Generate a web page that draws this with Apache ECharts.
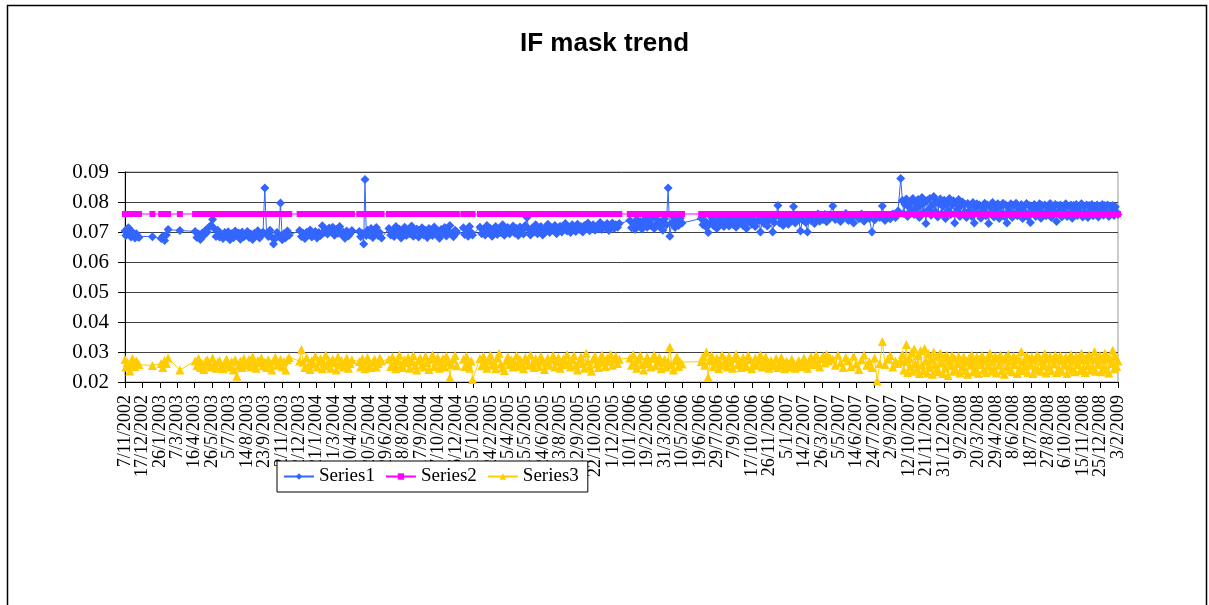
<!DOCTYPE html>
<html>
<head>
<meta charset="utf-8">
<title>IF mask trend</title>
<script src="https://cdn.jsdelivr.net/npm/echarts@6/dist/echarts.min.js"></script>
<style>
  html, body { margin: 0; padding: 0; background: #fff; }
  #chart { width: 1209px; height: 605px; }
</style>
</head>
<body>
<div id="chart"></div>
<script>
// x axis: one category per day from 7/11/2002 to 3/2/2009, labelled every 40 days
const axisStart = [2002, 10, 7];
const axisDays = 2281;
const labelEvery = 40;

// measurement dates, as day number counted from 7/11/2002
const days = [
  0, 2, 5, 8, 11, 14, 17, 20, 23, 26, 29, 32,
  63,
  83, 87, 91, 95, 99,
  126,
  161, 165, 169, 173, 177, 181, 185, 189, 193, 197,
  201, 205, 209, 213, 217, 221, 225, 229, 233, 237,
  241, 245, 249, 253, 257, 261, 265, 269, 273, 277,
  281, 285, 289, 293, 297, 301, 305, 309, 313, 317,
  321, 325, 329, 333, 337, 341, 345, 349, 353, 357,
  361, 365, 369, 373, 377,
  401, 405, 409, 413, 417, 421, 425, 429, 433, 437,
  441, 445, 449, 453, 457, 461, 465, 469, 473, 477,
  481, 485, 489, 493, 497, 501, 505, 509, 513, 517, 521,
  538, 541, 545, 548, 551, 554, 557, 561, 565, 569, 573, 577, 581, 585, 589,
  606, 610, 614, 618, 622, 626, 630, 634, 638, 642,
  646, 650, 654, 658, 662, 666, 670, 674, 678, 682,
  686, 690, 694, 698, 702, 706, 710, 714, 718, 722,
  726, 730, 734, 738, 742, 746, 750, 754, 758, 762,
  777, 780, 784, 788, 791, 795, 798,
  815, 819, 823, 827, 831, 835, 839, 843, 847, 851,
  855, 859, 863, 867, 871, 875, 879, 883, 887, 891,
  895, 899, 903, 907, 911, 915, 919, 923, 927, 931,
  935, 939, 943, 947, 951, 955, 959, 963, 967, 971,
  975, 979, 983, 987, 991, 995, 999, 1003, 1007, 1011,
  1015, 1019, 1023, 1027, 1031, 1035, 1039, 1043, 1047, 1051,
  1055, 1059, 1063, 1067, 1071, 1075, 1079, 1083, 1087, 1091,
  1095, 1099, 1103, 1107, 1111, 1115, 1119, 1123, 1127, 1131,
  1135,
  1159, 1163, 1167, 1171, 1175, 1179, 1183, 1187, 1191, 1195,
  1199, 1203, 1207, 1211, 1215, 1219, 1223, 1227, 1231, 1235,
  1239, 1243, 1247, 1251, 1255, 1259, 1263, 1267, 1271, 1275, 1279,
  1323, 1327, 1331, 1335, 1339, 1343, 1347, 1351, 1355, 1359,
  1363, 1367, 1371, 1375, 1379, 1383, 1387, 1391, 1395, 1399,
  1403, 1407, 1411, 1415, 1419, 1423, 1427, 1431, 1435, 1439,
  1443, 1447, 1451, 1455, 1459, 1463, 1467, 1471, 1475, 1479,
  1483, 1487, 1491, 1495, 1499, 1503, 1507, 1511, 1515, 1519,
  1523, 1527, 1531, 1535, 1539, 1543, 1547, 1551, 1555, 1559,
  1563, 1567, 1571, 1575, 1579, 1583, 1587, 1591, 1595, 1599,
  1603, 1607, 1611, 1615, 1619,
  1625, 1631, 1637, 1643, 1649, 1655, 1661, 1667, 1673, 1679,
  1685, 1691, 1697, 1703, 1709, 1715, 1721, 1727, 1733, 1739,
  1745, 1751, 1757, 1763, 1769, 1775,
  1781,
  1785, 1788, 1791, 1794, 1797, 1800, 1803, 1806, 1809, 1812,
  1815, 1818, 1821, 1824, 1827, 1830, 1833, 1836, 1839, 1842,
  1845, 1848, 1851, 1854, 1857, 1860, 1863, 1866, 1869, 1872,
  1875, 1878, 1881, 1884, 1887, 1890, 1893, 1896, 1899, 1902,
  1905, 1908, 1911, 1914, 1917, 1920, 1923, 1926, 1929, 1932,
  1935, 1938, 1941, 1944, 1947, 1950, 1953, 1956, 1959, 1962,
  1965, 1968, 1971, 1974, 1977, 1980, 1983, 1986, 1989, 1992,
  1995, 1998, 2001, 2004, 2007, 2010, 2013, 2016, 2019, 2022,
  2025, 2028, 2031, 2034, 2037, 2040, 2043, 2046, 2049, 2052,
  2055, 2058, 2061, 2064, 2067, 2070, 2073, 2076, 2079, 2082,
  2085, 2088, 2091, 2094, 2097, 2100, 2103, 2106, 2109, 2112,
  2115, 2118, 2121, 2124, 2127, 2130, 2133, 2136, 2139, 2142,
  2145, 2148, 2151, 2154, 2157, 2160, 2163, 2166, 2169, 2172,
  2175, 2178, 2181, 2184, 2187, 2190, 2193, 2196, 2199, 2202,
  2205, 2208, 2211, 2214, 2217, 2220, 2223, 2226, 2229, 2232,
  2235, 2238, 2241, 2244, 2247, 2250, 2253, 2256, 2259, 2262,
  2265, 2268, 2271, 2274, 2277, 2280
];

const series1 = [
  0.0703, 0.0688, 0.0710, 0.0714, 0.0696, 0.0683, 0.0700, 0.0690, 0.0680, 0.0694, 0.0686, 0.0682,
  0.0684,
  0.0678, 0.0686, 0.0672, 0.0690, 0.0708,
  0.0705,
  0.0702, 0.0682, 0.0693, 0.0675, 0.0696, 0.0688, 0.0706, 0.0700, 0.0716, 0.0722,
  0.0742, 0.0712, 0.0685, 0.0706, 0.0683, 0.0692, 0.0678, 0.0698, 0.0687, 0.0701,
  0.0674, 0.0694, 0.0681, 0.0703, 0.0689, 0.0697, 0.0676, 0.0700, 0.0684, 0.0691,
  0.0702, 0.0682, 0.0693, 0.0675, 0.0696, 0.0688, 0.0704, 0.0680, 0.0690, 0.0699,
  0.0847, 0.0695, 0.0685, 0.0706, 0.0683, 0.0660, 0.0678, 0.0698, 0.0687, 0.0797,
  0.0674, 0.0694, 0.0681, 0.0703, 0.0689,
  0.0705, 0.0685, 0.0696, 0.0678, 0.0699, 0.0691, 0.0707, 0.0683, 0.0693, 0.0702,
  0.0680, 0.0698, 0.0688, 0.0721, 0.0698, 0.0707, 0.0693, 0.0713, 0.0702, 0.0716,
  0.0689, 0.0709, 0.0696, 0.0718, 0.0692, 0.0700, 0.0679, 0.0703, 0.0687, 0.0694, 0.0705,
  0.0702, 0.0684, 0.0695, 0.0660, 0.0875, 0.0688, 0.0706, 0.0690, 0.0712, 0.0682, 0.0700, 0.0715, 0.0688, 0.0698, 0.0680,
  0.0712, 0.0690, 0.0703, 0.0685, 0.0718, 0.0694, 0.0709, 0.0680, 0.0700, 0.0716,
  0.0688, 0.0705, 0.0694, 0.0720, 0.0686, 0.0702, 0.0710, 0.0683, 0.0697, 0.0714,
  0.0690, 0.0706, 0.0682, 0.0712, 0.0699, 0.0688, 0.0717, 0.0693, 0.0705, 0.0679,
  0.0708, 0.0696, 0.0715, 0.0687, 0.0703, 0.0722, 0.0692, 0.0684, 0.0706, 0.0698,
  0.0714, 0.0692, 0.0705, 0.0686, 0.0718, 0.0698, 0.0690,
  0.0716, 0.0694, 0.0708, 0.0690, 0.0722, 0.0700, 0.0712, 0.0686, 0.0705, 0.0718,
  0.0692, 0.0710, 0.0698, 0.0724, 0.0689, 0.0706, 0.0715, 0.0694, 0.0702, 0.0720,
  0.0696, 0.0712, 0.0688, 0.0717, 0.0704, 0.0693, 0.0722, 0.0748, 0.0709, 0.0690,
  0.0713, 0.0700, 0.0724, 0.0694, 0.0708, 0.0718, 0.0690, 0.0711, 0.0702, 0.0726,
  0.0698, 0.0714, 0.0706, 0.0722, 0.0694, 0.0710, 0.0719, 0.0700, 0.0712, 0.0728,
  0.0703, 0.0716, 0.0698, 0.0724, 0.0710, 0.0702, 0.0726, 0.0708, 0.0718, 0.0700,
  0.0722, 0.0712, 0.0730, 0.0704, 0.0716, 0.0724, 0.0706, 0.0720, 0.0710, 0.0732,
  0.0708, 0.0722, 0.0714, 0.0728, 0.0705, 0.0719, 0.0730, 0.0712, 0.0724, 0.0716,
  0.0728,
  0.0738, 0.0714, 0.0730, 0.0708, 0.0742, 0.0720, 0.0735, 0.0710, 0.0728, 0.0745,
  0.0716, 0.0732, 0.0722, 0.0748, 0.0712, 0.0726, 0.0740, 0.0718, 0.0734, 0.0706,
  0.0744, 0.0724, 0.0847, 0.0686, 0.0730, 0.0750, 0.0715, 0.0738, 0.0722, 0.0746, 0.0730,
  0.0745, 0.0724, 0.0738, 0.0716, 0.0698, 0.0730, 0.0748, 0.0722, 0.0736, 0.0712,
  0.0742, 0.0728, 0.0752, 0.0718, 0.0734, 0.0746, 0.0720, 0.0740, 0.0726, 0.0754,
  0.0716, 0.0738, 0.0730, 0.0748, 0.0722, 0.0744, 0.0712, 0.0736, 0.0750, 0.0726,
  0.0742, 0.0718, 0.0734, 0.0756, 0.0700, 0.0740, 0.0728, 0.0752, 0.0720, 0.0738,
  0.0746, 0.0700, 0.0732, 0.0754, 0.0788, 0.0730, 0.0744, 0.0722, 0.0750, 0.0736,
  0.0726, 0.0748, 0.0738, 0.0785, 0.0730, 0.0752, 0.0742, 0.0703, 0.0740, 0.0756,
  0.0732, 0.0700, 0.0748, 0.0738, 0.0756, 0.0728, 0.0744, 0.0760, 0.0736, 0.0750,
  0.0742, 0.0758, 0.0734, 0.0752, 0.0746,
  0.0787, 0.0742, 0.0756, 0.0735, 0.0750, 0.0762, 0.0738, 0.0748, 0.0730, 0.0755,
  0.0744, 0.0760, 0.0736, 0.0752, 0.0745, 0.0700, 0.0740, 0.0756, 0.0748, 0.0787,
  0.0738, 0.0752, 0.0744, 0.0760, 0.0748, 0.0770,
  0.0878,
  0.0805, 0.0762, 0.0792, 0.0810, 0.0752, 0.0784, 0.0800, 0.0770, 0.0812, 0.0758,
  0.0796, 0.0778, 0.0808, 0.0748, 0.0788, 0.0815, 0.0766, 0.0798, 0.0728, 0.0806,
  0.0774, 0.0812, 0.0756, 0.0790, 0.0818, 0.0768, 0.0802, 0.0750, 0.0794, 0.0810,
  0.0762, 0.0786, 0.0806, 0.0745, 0.0798, 0.0772, 0.0812, 0.0758, 0.0790, 0.0804,
  0.0730, 0.0796, 0.0776, 0.0808, 0.0752, 0.0788, 0.0800, 0.0764, 0.0792, 0.0748,
  0.0795, 0.0770, 0.0788, 0.0752, 0.0798, 0.0730, 0.0782, 0.0794, 0.0760, 0.0790,
  0.0746, 0.0786, 0.0772, 0.0796, 0.0754, 0.0790, 0.0728, 0.0784, 0.0766, 0.0798,
  0.0750, 0.0788, 0.0776, 0.0794, 0.0745, 0.0786, 0.0762, 0.0796, 0.0752, 0.0790,
  0.0730, 0.0784, 0.0770, 0.0794, 0.0748, 0.0788, 0.0760, 0.0796, 0.0754, 0.0782,
  0.0772, 0.0792, 0.0745, 0.0786, 0.0764, 0.0795, 0.0750, 0.0788, 0.0732, 0.0784,
  0.0768, 0.0792, 0.0752, 0.0786, 0.0774, 0.0794, 0.0746, 0.0788, 0.0762, 0.0790,
  0.0754, 0.0784, 0.0770, 0.0795, 0.0748, 0.0786, 0.0764, 0.0792, 0.0735, 0.0788,
  0.0772, 0.0790, 0.0750, 0.0784, 0.0766, 0.0794, 0.0752, 0.0786, 0.0760, 0.0790,
  0.0746, 0.0788, 0.0774, 0.0792, 0.0755, 0.0784, 0.0768, 0.0794, 0.0750, 0.0786,
  0.0762, 0.0790, 0.0748, 0.0788, 0.0772, 0.0792, 0.0754, 0.0785, 0.0766, 0.0790,
  0.0750, 0.0786, 0.0774, 0.0792, 0.0756, 0.0788, 0.0764, 0.0790, 0.0752, 0.0786,
  0.0770, 0.0788, 0.0755, 0.0784, 0.0766, 0.0758
];

// Series2 sits flat at the same level on every measurement date
const series2Level = 0.076;

const series3 = [
  0.0275, 0.0250, 0.0266, 0.0258, 0.0237, 0.0262, 0.0278, 0.0268, 0.0252, 0.0270, 0.0264, 0.0258,
  0.0255,
  0.0262, 0.0248, 0.0272, 0.0262, 0.0280,
  0.0240,
  0.0270, 0.0254, 0.0278, 0.0248, 0.0262, 0.0242, 0.0268, 0.0274, 0.0256, 0.0250,
  0.0280, 0.0260, 0.0246, 0.0266, 0.0272, 0.0252, 0.0244, 0.0264, 0.0276, 0.0258,
  0.0250, 0.0268, 0.0240, 0.0274, 0.0219, 0.0254, 0.0270, 0.0248, 0.0278, 0.0256,
  0.0262, 0.0276, 0.0250, 0.0284, 0.0258, 0.0246, 0.0272, 0.0264, 0.0280, 0.0254,
  0.0266, 0.0248, 0.0274, 0.0260, 0.0240, 0.0270, 0.0282, 0.0256, 0.0262, 0.0276,
  0.0250, 0.0268, 0.0240, 0.0274, 0.0282,
  0.0270, 0.0308, 0.0266, 0.0248, 0.0282, 0.0256, 0.0242, 0.0272, 0.0260, 0.0286,
  0.0250, 0.0268, 0.0278, 0.0244, 0.0262, 0.0290, 0.0254, 0.0270, 0.0246, 0.0276,
  0.0264, 0.0240, 0.0284, 0.0258, 0.0272, 0.0250, 0.0266, 0.0280, 0.0246, 0.0262, 0.0274,
  0.0268, 0.0250, 0.0278, 0.0258, 0.0244, 0.0272, 0.0282, 0.0256, 0.0248, 0.0266, 0.0276, 0.0250, 0.0262, 0.0280, 0.0270,
  0.0276, 0.0252, 0.0284, 0.0262, 0.0244, 0.0270, 0.0290, 0.0256, 0.0248, 0.0274,
  0.0264, 0.0282, 0.0246, 0.0268, 0.0288, 0.0254, 0.0240, 0.0272, 0.0280, 0.0258,
  0.0250, 0.0286, 0.0264, 0.0242, 0.0276, 0.0290, 0.0252, 0.0268, 0.0282, 0.0246,
  0.0262, 0.0278, 0.0250, 0.0286, 0.0266, 0.0215, 0.0258, 0.0276, 0.0288, 0.0254,
  0.0276, 0.0252, 0.0286, 0.0260, 0.0246, 0.0270, 0.0208,
  0.0278, 0.0254, 0.0286, 0.0262, 0.0246, 0.0272, 0.0290, 0.0256, 0.0266, 0.0244,
  0.0280, 0.0296, 0.0260, 0.0248, 0.0238, 0.0270, 0.0284, 0.0258, 0.0274, 0.0250,
  0.0266, 0.0288, 0.0252, 0.0276, 0.0262, 0.0244, 0.0282, 0.0270, 0.0256, 0.0290,
  0.0260, 0.0248, 0.0278, 0.0266, 0.0252, 0.0286, 0.0270, 0.0242, 0.0264, 0.0280,
  0.0256, 0.0274, 0.0288, 0.0250, 0.0268, 0.0282, 0.0246, 0.0262, 0.0278, 0.0258,
  0.0292, 0.0266, 0.0250, 0.0274, 0.0288, 0.0256, 0.0240, 0.0270, 0.0284, 0.0262,
  0.0246, 0.0296, 0.0268, 0.0252, 0.0236, 0.0276, 0.0286, 0.0260, 0.0248, 0.0272,
  0.0290, 0.0264, 0.0252, 0.0280, 0.0268, 0.0292, 0.0256, 0.0274, 0.0286, 0.0262,
  0.0276,
  0.0280, 0.0256, 0.0292, 0.0266, 0.0246, 0.0274, 0.0288, 0.0258, 0.0240, 0.0270,
  0.0284, 0.0262, 0.0250, 0.0278, 0.0290, 0.0254, 0.0268, 0.0282, 0.0244, 0.0264,
  0.0276, 0.0250, 0.0268, 0.0317, 0.0258, 0.0240, 0.0272, 0.0284, 0.0252, 0.0266, 0.0260,
  0.0268, 0.0284, 0.0256, 0.0300, 0.0217, 0.0272, 0.0288, 0.0252, 0.0266, 0.0280,
  0.0244, 0.0262, 0.0290, 0.0256, 0.0274, 0.0250, 0.0286, 0.0264, 0.0246, 0.0278,
  0.0292, 0.0258, 0.0270, 0.0248, 0.0282, 0.0264, 0.0252, 0.0288, 0.0274, 0.0244,
  0.0262, 0.0280, 0.0256, 0.0270, 0.0290, 0.0250, 0.0266, 0.0284, 0.0258, 0.0246,
  0.0272, 0.0262, 0.0254, 0.0278, 0.0248, 0.0266, 0.0282, 0.0256, 0.0244, 0.0270,
  0.0260, 0.0250, 0.0276, 0.0264, 0.0246, 0.0258, 0.0272, 0.0252, 0.0266, 0.0280,
  0.0254, 0.0246, 0.0268, 0.0284, 0.0258, 0.0272, 0.0290, 0.0262, 0.0250, 0.0278,
  0.0286, 0.0264, 0.0292, 0.0270, 0.0282,
  0.0276, 0.0256, 0.0290, 0.0264, 0.0248, 0.0282, 0.0270, 0.0252, 0.0286, 0.0260,
  0.0242, 0.0274, 0.0290, 0.0256, 0.0268, 0.0248, 0.0280, 0.0203, 0.0262, 0.0335,
  0.0258, 0.0276, 0.0288, 0.0250, 0.0270, 0.0262,
  0.0270,
  0.0292, 0.0240, 0.0268, 0.0325, 0.0232, 0.0280, 0.0252, 0.0298, 0.0236, 0.0310,
  0.0262, 0.0244, 0.0288, 0.0228, 0.0305, 0.0256, 0.0238, 0.0312, 0.0270, 0.0230,
  0.0294, 0.0248, 0.0276, 0.0226, 0.0300, 0.0258, 0.0240, 0.0286, 0.0234, 0.0296,
  0.0264, 0.0228, 0.0282, 0.0246, 0.0290, 0.0222, 0.0272, 0.0254, 0.0288, 0.0236,
  0.0278, 0.0242, 0.0262, 0.0286, 0.0230, 0.0274, 0.0250, 0.0284, 0.0238, 0.0268,
  0.0226, 0.0280, 0.0256, 0.0290, 0.0234, 0.0270, 0.0246, 0.0284, 0.0228, 0.0276,
  0.0258, 0.0288, 0.0240, 0.0272, 0.0232, 0.0282, 0.0252, 0.0296, 0.0236, 0.0268,
  0.0244, 0.0286, 0.0230, 0.0278, 0.0256, 0.0290, 0.0238, 0.0274, 0.0226, 0.0284,
  0.0250, 0.0292, 0.0240, 0.0270, 0.0234, 0.0286, 0.0258, 0.0280, 0.0228, 0.0276,
  0.0246, 0.0302, 0.0238, 0.0268, 0.0252, 0.0288, 0.0232, 0.0278, 0.0256, 0.0284,
  0.0228, 0.0274, 0.0248, 0.0290, 0.0240, 0.0282, 0.0236, 0.0270, 0.0254, 0.0294,
  0.0230, 0.0278, 0.0250, 0.0286, 0.0238, 0.0276, 0.0260, 0.0290, 0.0232, 0.0280,
  0.0244, 0.0288, 0.0236, 0.0272, 0.0256, 0.0284, 0.0228, 0.0278, 0.0250, 0.0292,
  0.0240, 0.0270, 0.0234, 0.0286, 0.0258, 0.0280, 0.0238, 0.0296, 0.0246, 0.0274,
  0.0232, 0.0284, 0.0254, 0.0290, 0.0240, 0.0276, 0.0248, 0.0302, 0.0236, 0.0280,
  0.0258, 0.0288, 0.0234, 0.0274, 0.0250, 0.0296, 0.0240, 0.0284, 0.0230, 0.0278,
  0.0262, 0.0306, 0.0244, 0.0286, 0.0252, 0.0270
];

const seriesNames = ['Series1', 'Series2', 'Series3'];

const categories = [];
for (let i = 0; i < axisDays; i++) {
  const d = new Date(axisStart[0], axisStart[1], axisStart[2] + i);
  categories.push(d.getDate() + '/' + (d.getMonth() + 1) + '/' + d.getFullYear());
}

const chart = echarts.init(document.getElementById('chart'));

function lineSeries(name, values, color, symbol, size) {
  return {
    name: name,
    type: 'line',
    data: days.map((d, i) => [d, values[i]]),
    symbol: symbol,
    symbolSize: size,
    showAllSymbol: true,
    color: color,
    lineStyle: { color: color, width: 1 },
    itemStyle: { color: color },
    emphasis: { disabled: true },
    animation: false
  };
}

chart.setOption({
  animation: false,
  title: {
    text: 'IF mask trend',
    left: 'center',
    top: 26,
    textStyle: { fontFamily: 'Liberation Sans', fontWeight: 'bold', fontSize: 26, color: '#000' }
  },
  graphic: [{
    type: 'rect',
    shape: { x: 7.5, y: 5.5, width: 1199, height: 620 },
    style: { fill: 'none', stroke: '#000', lineWidth: 1.5 },
    silent: true
  }],
  legend: {
    data: seriesNames,
    left: 277,
    top: 461,
    itemWidth: 30,
    itemHeight: 8,
    itemGap: 10,
    padding: [6, 9, 6, 6],
    backgroundColor: '#fff',
    borderColor: '#000',
    borderWidth: 1,
    borderRadius: 0,
    z: 10,
    textStyle: { fontFamily: 'Liberation Serif', fontSize: 19, color: '#000' }
  },
  grid: {
    left: 125,
    right: 91,
    top: 172,
    bottom: 223,
    show: true,
    borderColor: '#999',
    borderWidth: 1
  },
  xAxis: {
    type: 'category',
    data: categories,
    boundaryGap: false,
    axisLine: { lineStyle: { color: '#000', width: 1 } },
    axisTick: { show: true, interval: labelEvery - 1, length: 6, lineStyle: { color: '#000' } },
    axisLabel: {
      interval: 0,
      rotate: 90,
      margin: 13,
      hideOverlap: false,
      fontFamily: 'Liberation Serif',
      fontSize: 18,
      color: '#000',
      formatter: (value, index) => (index % labelEvery === 0 ? value : '')
    },
    splitLine: { show: false }
  },
  yAxis: {
    type: 'value',
    min: 0.02,
    max: 0.09,
    interval: 0.01,
    axisLine: { show: true, lineStyle: { color: '#000', width: 1 } },
    axisTick: { show: true, length: 7, lineStyle: { color: '#000' } },
    axisLabel: {
      margin: 16,
      fontFamily: 'Liberation Serif',
      fontSize: 21,
      color: '#000',
      formatter: v => v.toFixed(2)
    },
    splitLine: { lineStyle: { color: '#404040', width: 1 } }
  },
  series: [
    lineSeries('Series1', series1, '#3366FF', 'diamond', 9),
    lineSeries('Series2', days.map(() => series2Level), '#FF00FF', 'rect', 6),
    lineSeries('Series3', series3, '#FFCC00', 'triangle', 9)
  ]
});
</script>
</body>
</html>
